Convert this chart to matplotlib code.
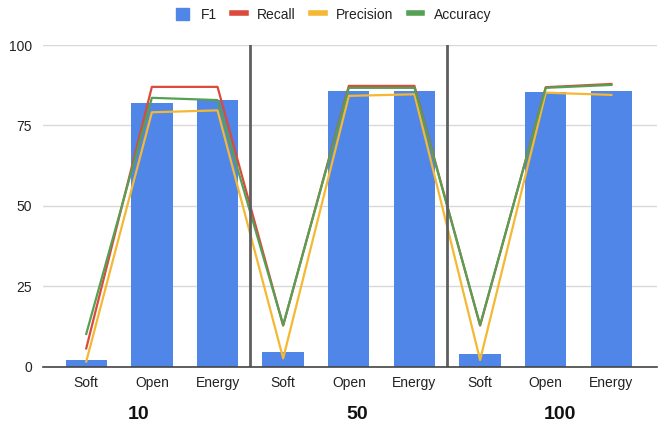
import matplotlib.pyplot as plt
import matplotlib.transforms as mtransforms
from matplotlib.patches import Patch
from matplotlib.lines import Line2D
import numpy as np

plt.rcParams['font.family'] = ['Liberation Sans', 'DejaVu Sans']

# scores per method, grouped by size (10, 50, 100)
methods = ['Soft', 'Open', 'Energy'] * 3
groups = ['10', '50', '100']
f1 = [2.2, 82.0, 83.0, 4.7, 85.8, 85.8, 4.1, 85.5, 85.8]
recall = [5.7, 87.0, 87.0, 12.8, 87.3, 87.3, 12.8, 86.9, 87.9]
precision = [1.6, 79.1, 79.7, 2.6, 84.2, 84.7, 2.1, 85.2, 84.5]
accuracy = [10.2, 83.6, 82.9, 13.0, 86.7, 86.7, 13.0, 86.7, 87.6]

blue = '#4f86e8'
red = '#db4a3c'
yellow = '#f4b833'
green = '#55a052'

fig = plt.figure(figsize=(6.6, 4.25), dpi=100)
ax = fig.add_axes([0.065, 0.137, 0.93, 0.757])

x = np.arange(len(methods))
ax.bar(x, f1, width=0.63, color=blue, zorder=2)
ax.plot(x, recall, color=red, lw=1.6, zorder=3)
ax.plot(x, precision, color=yellow, lw=1.6, zorder=3)
ax.plot(x, accuracy, color=green, lw=1.6, zorder=3)

# separators between groups
for sx in [2.5, 5.5]:
    ax.plot([sx, sx], [0, 100], color='#5f5f5f', lw=2, zorder=4)

ax.set_xlim(-0.66, 8.69)
ax.set_ylim(0, 100)
ax.set_yticks([0, 25, 50, 75, 100])
ax.set_xticks(x)
ax.set_xticklabels(methods, fontsize=10, color='#222222')
ax.tick_params(axis='x', length=0, pad=7)
ax.tick_params(axis='y', length=0, pad=8, labelsize=10, labelcolor='#222222')
ax.grid(axis='y', color='#d9d9d9', lw=1, zorder=0)
for s in ['top', 'right', 'left']:
    ax.spines[s].set_visible(False)
ax.spines['bottom'].set_color('#444444')
ax.spines['bottom'].set_linewidth(1.2)
ax.spines['bottom'].set_zorder(5)

trans = mtransforms.blended_transform_factory(ax.transData, ax.transAxes)
for gx, g in zip([0.8, 4.12, 7.21], groups):
    ax.text(gx, -0.148, g, transform=trans, ha='center', va='center',
            fontsize=14, fontweight='bold', color='#111111')

handles = [Patch(color=blue, label='F1'),
           Line2D([], [], color=red, lw=4, label='Recall'),
           Line2D([], [], color=yellow, lw=4, label='Precision'),
           Line2D([], [], color=green, lw=4, label='Accuracy')]
fig.legend(handles=handles, loc='center', bbox_to_anchor=(0.505, 0.965), ncol=4,
           frameon=False, fontsize=10, handlelength=1.0, handleheight=1.0,
           columnspacing=1.1, handletextpad=0.8, labelcolor='#222222')

fig.savefig('out.png', dpi=100)
